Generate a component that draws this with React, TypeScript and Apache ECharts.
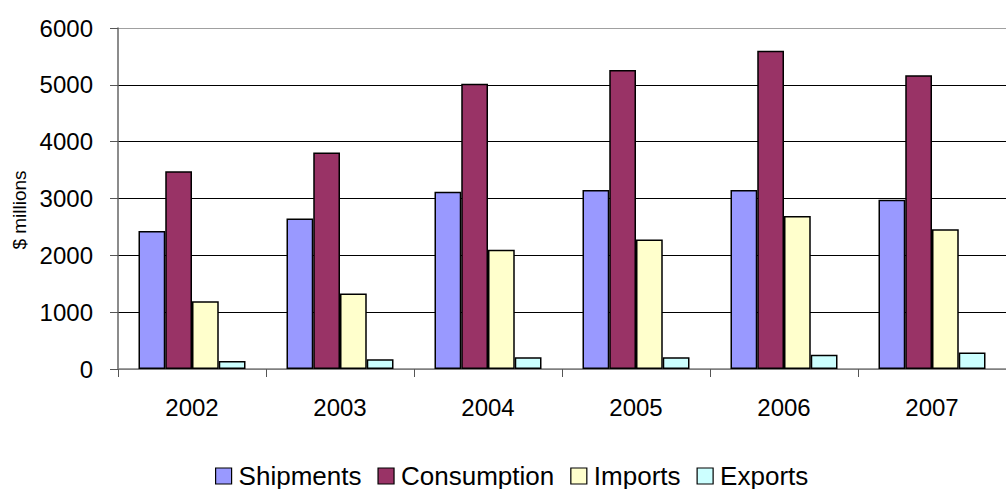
import React, { useEffect, useRef } from "react";
import * as echarts from "echarts";

const categories = ["2002", "2003", "2004", "2005", "2006", "2007"];
const seriesNames = ["Shipments", "Consumption", "Imports", "Exports"];
const shipments = [2430, 2650, 3120, 3150, 3150, 2980];
const consumption = [3480, 3810, 5020, 5260, 5600, 5170];
const imports = [1190, 1330, 2100, 2280, 2690, 2460];
const exportsData = [140, 170, 205, 205, 250, 290];
const colors = ["#9999FF", "#993366", "#FFFFCC", "#CCFFFF"];
const yAxisTitle = "$ millions";

const FONT = "'Liberation Sans', Arial, sans-serif";

export default function App() {
  const ref = useRef<HTMLDivElement>(null);

  useEffect(() => {
    if (!ref.current) return;
    const chart = echarts.init(ref.current, undefined, { renderer: "svg" });
    const values = [shipments, consumption, imports, exportsData];
    chart.setOption({
      animation: false,
      backgroundColor: "#ffffff",
      textStyle: { fontFamily: FONT },
      grid: { left: 118, top: 28, width: 900, height: 341, containLabel: false },
      legend: {
        data: seriesNames,
        left: 215,
        top: 463,
        padding: 0,
        icon: "rect",
        itemWidth: 16,
        itemHeight: 16,
        itemGap: 16,
        itemStyle: { borderColor: "#000", borderWidth: 1.2 },
        textStyle: {
          fontFamily: FONT,
          fontSize: 26,
          color: "#000",
          lineHeight: 26,
          padding: [0, 0, 0, 2],
        },
      },
      xAxis: {
        type: "category",
        data: categories,
        axisLine: { lineStyle: { color: "#808080", width: 1.5 } },
        axisTick: { show: true, length: 8, lineStyle: { color: "#555", width: 1 } },
        axisLabel: {
          fontFamily: FONT,
          fontSize: 24,
          color: "#000",
          margin: 26,
        },
        splitLine: { show: false },
      },
      yAxis: {
        type: "value",
        min: 0,
        max: 6000,
        interval: 1000,
        axisLine: { show: true, lineStyle: { color: "#666", width: 1.5 } },
        axisTick: { show: true, length: 8, lineStyle: { color: "#555", width: 1 } },
        axisLabel: {
          fontFamily: FONT,
          fontSize: 24,
          color: "#000",
          margin: 25,
          formatter: (v: number) => String(v),
        },
        splitLine: {
          show: true,
          lineStyle: {
            color: ["#808080", "#000", "#000", "#000", "#000", "#000", "#a0a0a0"],
            width: 1,
          },
        },
      },
      graphic: [
        {
          type: "text",
          x: 19,
          y: 210,
          rotation: Math.PI / 2,
          style: {
            text: yAxisTitle,
            font: "19px 'Liberation Sans', Arial, sans-serif",
            fontSize: 19,
            fontFamily: FONT,
            fill: "#000",
            align: "center",
            verticalAlign: "middle",
          },
        },
      ],
      series: seriesNames.map((name, i) => ({
        name,
        type: "bar",
        data: values[i],
        barGap: "0%",
        barCategoryGap: "27.7%",
        itemStyle: { color: colors[i], borderColor: "#000", borderWidth: 1.5 },
      })),
    });
    return () => chart.dispose();
  }, []);

  return (
    <div
      ref={ref}
      style={{ position: "fixed", left: 0, top: 0, width: 1006, height: 489, background: "#fff" }}
    />
  );
}
